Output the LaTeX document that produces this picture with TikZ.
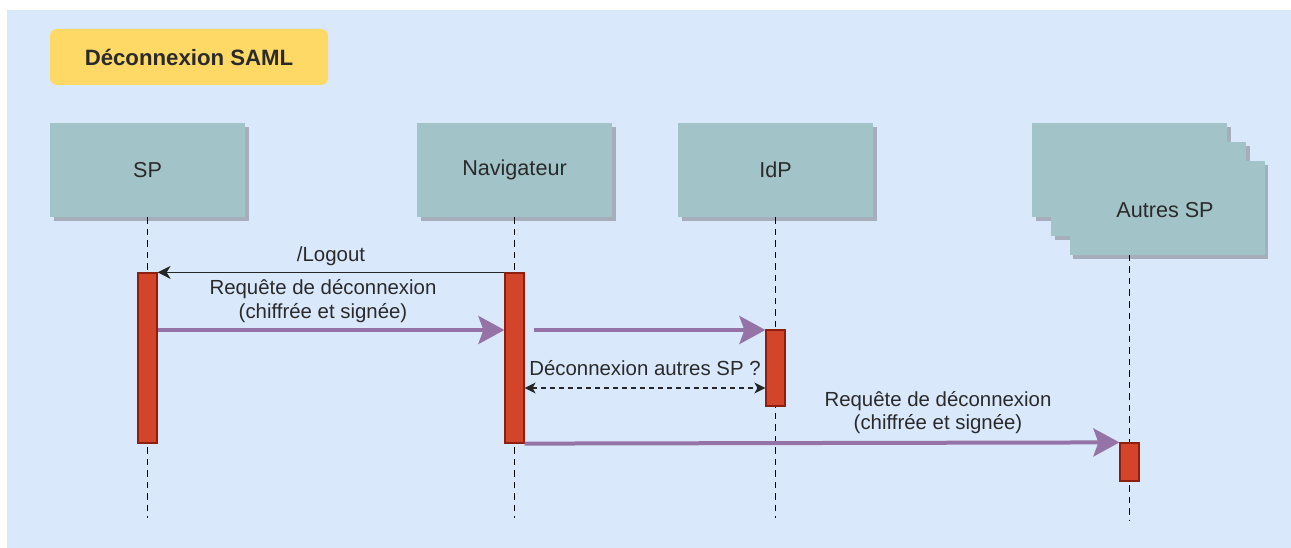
\documentclass[tikz,border=0pt]{standalone}
\usepackage{fontspec}
\setmainfont{Liberation Sans}
\usetikzlibrary{arrows.meta,shadows,calc}
\definecolor{bgblue}{HTML}{DAE8FC}
\definecolor{actorfill}{HTML}{A2C4C9}
\definecolor{shadowgray}{HTML}{A6AEBB}
\definecolor{titlefill}{HTML}{FFD966}
\definecolor{actfill}{HTML}{D2452A}
\definecolor{actdraw}{HTML}{8E1F0E}
\definecolor{purplemsg}{HTML}{9673A6}
\definecolor{txt}{HTML}{2A2A2A}
\tikzset{
  actor/.style={rectangle, fill=actorfill, minimum width=195pt, minimum height=94pt, inner sep=0pt,
    text=txt, font=\fontsize{21.6}{26}\selectfont,
    drop shadow={shadow xshift=3.5pt, shadow yshift=-4pt, fill=shadowgray, opacity=1}},
  plainbox/.style={rectangle, fill=actorfill, minimum width=195pt, minimum height=94pt, inner sep=0pt,
    drop shadow={shadow xshift=3.5pt, shadow yshift=-4pt, fill=shadowgray, opacity=1}},
  titlebox/.style={rectangle, rounded corners=7pt, fill=titlefill, minimum width=278pt, minimum height=56pt,
    inner sep=0pt, text=txt, font=\bfseries\fontsize{22.2}{26}\selectfont},
  life/.style={draw=black, line width=1pt, dash pattern=on 6.5pt off 5pt},
  act/.style={rectangle, fill=actfill, draw=actdraw, line width=1.2pt, minimum width=19pt, inner sep=0pt},
  req/.style={draw=purplemsg, line width=4pt, -{Stealth[length=26pt,width=28pt,inset=5pt]}},
  msg/.style={draw=black!85, line width=1.5pt, -{Stealth[length=13pt,width=13pt,inset=4pt]}},
  ask/.style={draw=black!85, line width=1.3pt, dash pattern=on 5pt off 4pt,
    {Stealth[length=11pt,width=11pt,inset=3pt]}-{Stealth[length=11pt,width=11pt,inset=3pt]}},
  lbl/.style={text=txt, font=\fontsize{20.4}{23.5}\selectfont, align=center, inner sep=0pt},
}
\begin{document}
\begin{tikzpicture}[x=1pt,y=-1pt]
\useasboundingbox (0,0) rectangle (1291,548);
\fill[bgblue] (7,10) rectangle (1291,548);

\node[titlebox] (title) at (189,57) {Déconnexion SAML};

\node[actor] (sp) at (147.5,170) {SP};
\node[actor] (nav) at (514.5,170) {Navigateur};
\node[actor] (idp) at (775.5,170) {IdP};
\node[plainbox] (aut1) at (1129.5,170) {};
\node[plainbox] (aut2) at (1148.5,189) {};
\node[actor] (aut) at (1167,208) {};
\node[text=txt, font=\fontsize{21.6}{26}\selectfont, inner sep=0pt] (autlbl) at (1165,210) {Autres SP};

\coordinate (spEnd) at (147.5,518);
\coordinate (navEnd) at (514.5,518);
\coordinate (idpEnd) at (775.5,518);
\coordinate (autEnd) at (1129.5,520);
\coordinate (autTop) at (1129.5,255);

\draw[life] (sp.south) -- (spEnd);
\draw[life] (nav.south) -- (navEnd);
\draw[life] (idp.south) -- (idpEnd);
\draw[life] (autTop) -- (autEnd);

\node[act, minimum height=170pt] (spA) at (147.5,358) {};
\node[act, minimum height=170pt] (navA) at (514.5,358) {};
\node[act, minimum height=76pt] (idpA) at (775.5,368) {};
\node[act, minimum height=38pt] (autA) at (1129.5,462) {};

\coordinate (r2) at (0,330);
\coordinate (r3) at (0,388);

\draw[msg] (navA.north west) -- (spA.north east)
  node[lbl, midway, yshift=16pt] (l1) {/Logout};
\draw[req] (spA.east |- r2) -- (navA.west |- r2)
  node[lbl, midway, xshift=-8pt, yshift=29pt] (l2) {Requête de déconnexion\\(chiffrée et signée)};
\draw[req] ($(navA.east |- r2)+(9,0)$) -- (idpA.west |- r2);
\draw[ask] (navA.east |- r3) -- (idpA.west |- r3)
  node[lbl, midway, yshift=20pt] (l3) {Déconnexion autres SP ?};
\draw[req] (navA.south east) -- (autA.north west)
  node[lbl, pos=0.695, yshift=30pt] (l4) {Requête de déconnexion\\(chiffrée et signée)};
\end{tikzpicture}
\end{document}
